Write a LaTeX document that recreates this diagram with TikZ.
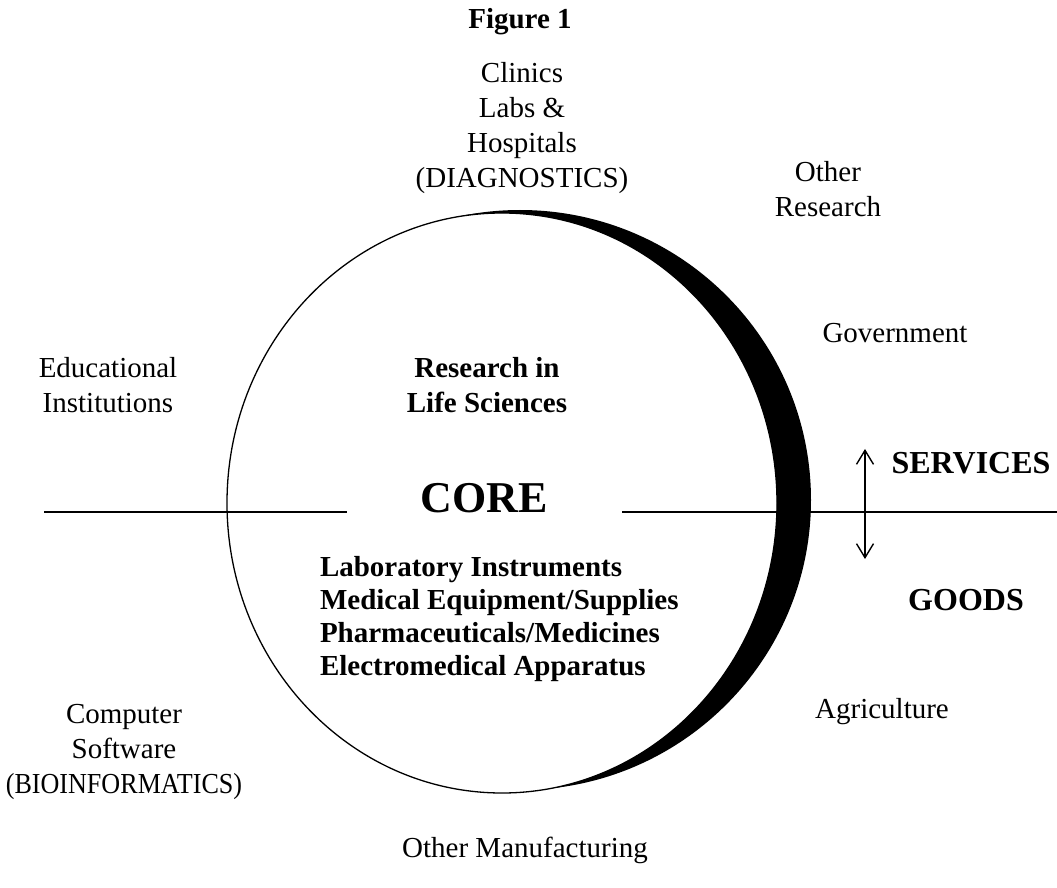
\documentclass[tikz,border=0pt]{standalone}
\usepackage{fontspec}
\setmainfont{Liberation Serif}
\usetikzlibrary{arrows.meta}
\begin{document}
\begin{tikzpicture}[x=0.5pt,y=-0.5pt,
  every node/.style={inner sep=0pt,outer sep=0pt},
  lbl/.style={font=\fontsize{14.5}{17.5}\selectfont,align=center},
  blbl/.style={font=\fontsize{14.5}{17.5}\selectfont\bfseries,align=center},
  bigbold/.style={font=\fontsize{16}{19}\selectfont\bfseries},
  listtext/.style={font=\fontsize{14.5}{16.5}\selectfont\bfseries,align=left,anchor=west},
  divider/.style={line width=0.7pt},
  ring/.style={line width=0.65pt}]
\useasboundingbox (0,0) rectangle (1057,888);
% crescent
\begin{scope}
  \clip (520,500) ellipse [x radius=291, y radius=290];
  \fill[even odd rule] (-10,-10) rectangle (1067,898) (502,503) ellipse [x radius=275, y radius=290];
\end{scope}
\draw[ring] (502,503) ellipse [x radius=275, y radius=290];
% divider line
\coordinate (L1) at (44,512);
\coordinate (L2) at (347,512);
\coordinate (R1) at (622,512);
\coordinate (R2) at (1057,512);
\draw[divider] (L1) -- (L2);
\draw[divider] (R1) -- (R2);
% arrow
\coordinate (A1) at (865,449);
\coordinate (A2) at (865,559);
\draw[line width=0.7pt,{Straight Barb[length=7pt,width=8.5pt]}-{Straight Barb[length=7pt,width=8.5pt]}] (A1) -- (A2);
% texts
\node[blbl] (fig) at (520,22) {Figure 1};
\node[lbl] (clin) at (522,128) {Clinics\\Labs \&\\Hospitals\\(DIAGNOSTICS)};
\node[lbl] (othr) at (828,189) {Other\\Research};
\node[lbl] (gov) at (895,333) {Government};
\node[lbl] (edu) at (108,385) {Educational\\Institutions};
\node[blbl] (rls) at (487,385) {Research in\\Life Sciences};
\node[font=\fontsize{22}{26}\selectfont\bfseries] (core) at (484,498) {CORE};
\node[listtext] (list) at (320,619) {Laboratory Instruments\\Medical Equipment/Supplies\\Pharmaceuticals/Medicines\\Electromedical Apparatus};
\node[bigbold] (serv) at (971,463) {SERVICES};
\node[bigbold] (goods) at (966,600) {GOODS};
\node[lbl] (agri) at (882,712) {Agriculture};
\node[lbl] (comp) at (124,752) {Computer\\Software\\\scalebox{0.9}[1]{(BIOINFORMATICS)}};
\node[lbl] (manu) at (525,850) {Other Manufacturing};
\end{tikzpicture}
\end{document}
